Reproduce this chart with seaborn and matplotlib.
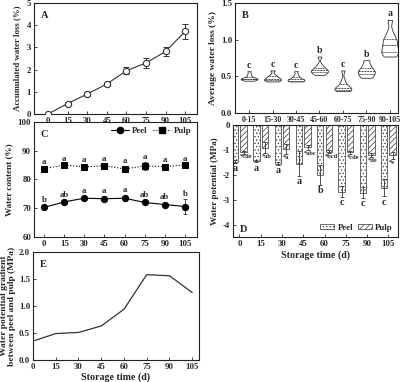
import numpy as np
import pandas as pd
import matplotlib
matplotlib.use("Agg")
import matplotlib.pyplot as plt
import seaborn as sns
from matplotlib.patches import Patch
from matplotlib.lines import Line2D

# ---------------- data ----------------
days = [0, 15, 30, 45, 60, 75, 90, 105]
day_labels = ["0", "15", "30", "45", "60", "75", "90", "105"]

acc_loss = [0.0, 0.47, 0.90, 1.35, 1.95, 2.30, 2.82, 3.72]
acc_loss_err = [0.02, 0.05, 0.07, 0.08, 0.16, 0.22, 0.22, 0.32]

intervals = ["0-15", "15-30", "30-45", "45-60", "60-75", "75-90", "90-105"]
loss_0_15 = [0.44, 0.45, 0.46, 0.46, 0.47, 0.47, 0.48, 0.50, 0.53, 0.57]
loss_15_30 = [0.43, 0.44, 0.45, 0.46, 0.47, 0.48, 0.50, 0.52, 0.58]
loss_30_45 = [0.43, 0.44, 0.44, 0.45, 0.46, 0.47, 0.49, 0.52, 0.57]
loss_45_60 = [0.52, 0.54, 0.56, 0.57, 0.58, 0.60, 0.62, 0.66, 0.77]
loss_60_75 = [0.30, 0.31, 0.32, 0.33, 0.34, 0.36, 0.39, 0.45, 0.58]
loss_75_90 = [0.48, 0.50, 0.53, 0.55, 0.57, 0.59, 0.62, 0.66, 0.72]
loss_90_105 = [0.77, 0.80, 0.83, 0.86, 0.90, 0.95, 0.99, 1.02, 1.10, 1.27]
loss_letters = ["c", "c", "c", "b", "c", "b", "a"]

peel_wc = [70.3, 72.2, 73.5, 73.3, 73.5, 72.0, 71.3, 70.6]
peel_wc_err = [0.5, 0.5, 0.6, 0.8, 0.9, 0.6, 0.5, 2.6]
pulp_wc = [83.8, 85.0, 84.4, 84.8, 83.7, 84.7, 84.5, 85.0]
pulp_wc_err = [0.5, 0.5, 0.5, 0.6, 1.0, 1.3, 0.5, 0.5]
peel_wc_letters = ["b", "ab", "a", "a", "a", "ab", "ab", "b"]
pulp_wc_letters = ["a", "a", "a", "a", "a", "a", "a", "a"]

peel_wp = [-1.47, -1.45, -1.55, -1.55, -2.02, -2.68, -2.72, -2.52]
peel_wp_err = [0.05, 0.05, 0.06, 0.50, 0.40, 0.22, 0.22, 0.35]
pulp_wp = [-1.10, -0.92, -0.97, -0.90, -1.08, -1.10, -1.20, -1.22]
pulp_wp_err = [0.05, 0.22, 0.20, 0.10, 0.06, 0.07, 0.08, 0.15]
peel_wp_letters = ["a", "a", "a", "a", "b", "c", "c", "c"]
pulp_wp_letters = ["*cde", "*ab", "*a", "*abc", "*bcd", "*cde", "*de", "*e"]

gradient = [0.35, 0.49, 0.51, 0.63, 0.94, 1.58, 1.56, 1.25]

# ---------------- style ----------------
sns.set_theme(style="ticks")
plt.rcParams['font.family'] = ['Liberation Serif', 'DejaVu Serif']
plt.rcParams['font.weight'] = 'bold'
plt.rcParams['axes.labelweight'] = 'bold'
plt.rcParams['axes.linewidth'] = 0.8
plt.rcParams['axes.edgecolor'] = '#222222'
plt.rcParams['xtick.direction'] = 'in'
plt.rcParams['ytick.direction'] = 'in'
plt.rcParams['xtick.major.size'] = 2
plt.rcParams['ytick.major.size'] = 2
plt.rcParams['xtick.major.width'] = 0.6
plt.rcParams['ytick.major.width'] = 0.6
plt.rcParams['xtick.labelsize'] = 6.3
plt.rcParams['ytick.labelsize'] = 6.3
plt.rcParams['xtick.major.pad'] = 2
plt.rcParams['ytick.major.pad'] = 2
plt.rcParams['hatch.linewidth'] = 0.5
plt.rcParams['hatch.color'] = '#444444'

W, H = 400, 382
fig = plt.figure(figsize=(4.0, 3.82), dpi=100)


def add_ax(x0, y0, x1, y1):
    return fig.add_axes([x0 / W, 1 - y1 / H, (x1 - x0) / W, (y1 - y0) / H])


YLAB = 6.3
XLAB = 7.2
dark = '#333333'

# ---------------- Panel A ----------------
axA = add_ax(34, 3, 197, 114)
sns.lineplot(x=days, y=acc_loss, ax=axA, color=dark, linewidth=0.8,
             marker='o', markersize=4.5, markerfacecolor='white',
             markeredgecolor=dark, markeredgewidth=0.8, zorder=3)
axA.errorbar(days, acc_loss, yerr=acc_loss_err, fmt='none', ecolor=dark,
             elinewidth=0.7, capsize=2, capthick=0.7, zorder=2)
axA.set_xlim(-10.7, 114)
axA.set_ylim(0, 5)
axA.set_xticks(days)
axA.set_yticks([0, 1, 2, 3, 4, 5])
axA.set_ylabel("Accumulated water loss (%)", fontsize=YLAB, labelpad=4)
axA.text(0.04, 0.93, "A", transform=axA.transAxes, fontsize=7.5,
         fontweight='bold', va='top')

# ---------------- Panel B ----------------
axB = add_ax(235, 3, 398, 113)
loss_lists = [loss_0_15, loss_15_30, loss_30_45, loss_45_60,
              loss_60_75, loss_75_90, loss_90_105]
dfB = pd.DataFrame({
    "interval": [iv for iv, vals in zip(intervals, loss_lists) for _ in vals],
    "loss": [v for vals in loss_lists for v in vals],
})
sns.violinplot(data=dfB, x="interval", y="loss", order=intervals, ax=axB,
               inner="quart", color="white", linecolor=dark, linewidth=0.6,
               cut=0, width=0.72, density_norm="width", bw_adjust=0.6)
for i, (vals, let) in enumerate(zip(loss_lists, loss_letters)):
    axB.text(i, max(vals) + 0.02, let, ha='center', va='bottom', fontsize=7)
axB.set_xlim(-0.6, 6.35)
axB.set_ylim(0, 1.5)
axB.set_yticks([0.0, 0.5, 1.0, 1.5])
axB.set_yticklabels(["0.0", "0.5", "1.0", "1.5"])
axB.tick_params(axis='x', labelsize=5.7)
axB.set_xlabel("")
axB.set_ylabel("Average water loss (%)", fontsize=6.8, labelpad=3)
axB.text(0.04, 0.93, "B", transform=axB.transAxes, fontsize=7.5,
         fontweight='bold', va='top')

# ---------------- Panel C ----------------
axC = add_ax(34, 122, 197, 237)
sns.lineplot(x=days, y=peel_wc, ax=axC, color='black', linewidth=0.8,
             marker='o', markersize=4.5, markeredgecolor='black', zorder=3)
sns.lineplot(x=days, y=pulp_wc, ax=axC, color='black', linewidth=0.8,
             linestyle=':', marker='s', markersize=4.5,
             markeredgecolor='black', zorder=3)
axC.errorbar(days, peel_wc, yerr=peel_wc_err, fmt='none', ecolor=dark,
             elinewidth=0.6, capsize=1.5, capthick=0.6)
axC.errorbar(days, pulp_wc, yerr=pulp_wc_err, fmt='none', ecolor=dark,
             elinewidth=0.6, capsize=1.5, capthick=0.6)
for d, v, e, l in zip(days, peel_wc, peel_wc_err, peel_wc_letters):
    axC.text(d, v + max(e, 0.6) + 0.5, l, ha='center', va='bottom', fontsize=6.3)
for d, v, e, l in zip(days, pulp_wc, pulp_wc_err, pulp_wc_letters):
    axC.text(d, v + max(e, 0.6) + 0.3, l, ha='center', va='bottom', fontsize=6.3)
axC.set_xlim(-7.5, 114)
axC.set_ylim(60, 100)
axC.set_xticks(days)
axC.set_yticks([60, 70, 80, 90, 100])
axC.set_ylabel("Water content (%)", fontsize=6.6, labelpad=3)
axC.text(0.04, 0.93, "C", transform=axC.transAxes, fontsize=7.5,
         fontweight='bold', va='top')
handlesC = [Line2D([], [], color='black', marker='o', markersize=4.5, linewidth=0.8),
            Line2D([], [], color='black', marker='s', markersize=4.5, linewidth=0.8,
                   linestyle=':')]
axC.legend(handlesC, ["Peel", "Pulp"], loc='upper right', ncol=2, frameon=False,
           fontsize=6.3, handlelength=2.0, columnspacing=0.6, handletextpad=0.4,
           borderaxespad=0.2)

# ---------------- Panel D ----------------
axD = add_ax(233, 125, 398, 237)
dfD = pd.DataFrame({
    "day": day_labels * 2,
    "wp": peel_wp + pulp_wp,
    "tissue": ["Peel"] * len(days) + ["Pulp"] * len(days),
})
sns.barplot(data=dfD, x="day", y="wp", hue="tissue", order=day_labels,
            hue_order=["Peel", "Pulp"], palette=["white", "white"],
            edgecolor=dark, linewidth=0.5, width=0.8, gap=0.25,
            errorbar=None, legend=False, ax=axD)
bars = [p for p in axD.patches][:2 * len(days)]
peel_bars = bars[:len(days)]
pulp_bars = bars[len(days):]
for p in peel_bars:
    p.set_hatch('.....')
for p in pulp_bars:
    p.set_hatch('//////')
peel_x = [p.get_x() + p.get_width() / 2 for p in peel_bars]
pulp_x = [p.get_x() + p.get_width() / 2 for p in pulp_bars]
axD.errorbar(peel_x, peel_wp, yerr=peel_wp_err, fmt='none', ecolor=dark,
             elinewidth=0.6, capsize=1.5, capthick=0.6)
axD.errorbar(pulp_x, pulp_wp, yerr=pulp_wp_err, fmt='none', ecolor=dark,
             elinewidth=0.6, capsize=1.5, capthick=0.6)
for x, v, e, l in zip(peel_x, peel_wp, peel_wp_err, peel_wp_letters):
    axD.text(x, v - e - 0.05, l, ha='center', va='top', fontsize=7.2)
for p, v, e, l in zip(pulp_bars, pulp_wp, pulp_wp_err, pulp_wp_letters):
    axD.text(p.get_x() - 0.02, v - e - 0.03, l, ha='left', va='top', fontsize=4.6)
axD.set_xlim(-0.3, 7.45)
axD.set_ylim(-4.5, 0)
axD.set_yticks([0, -1, -2, -3, -4])
axD.set_yticklabels(["0", "-1", "-2", "-3", "-4"])
axD.set_xlabel("Storage time (d)", fontsize=XLAB, labelpad=2)
axD.set_ylabel("Water potential (MPa)", fontsize=6.6, labelpad=3)
axD.text(0.04, 0.03, "D", transform=axD.transAxes, fontsize=7.5,
         fontweight='bold', va='bottom')
handlesD = [Patch(facecolor='white', edgecolor=dark, linewidth=0.5, hatch='.....'),
            Patch(facecolor='white', edgecolor=dark, linewidth=0.5, hatch='//////')]
axD.legend(handlesD, ["Peel", "Pulp"], loc='lower right', ncol=2, frameon=False,
           fontsize=6.3, handlelength=1.6, handleheight=0.6, columnspacing=0.5,
           handletextpad=0.4, borderaxespad=0.2)

# ---------------- Panel E ----------------
axE = add_ax(33, 252, 199, 360)
sns.lineplot(x=days, y=gradient, ax=axE, color=dark, linewidth=0.9)
axE.set_xlim(0, 109.5)
axE.set_ylim(0, 2.0)
axE.set_xticks(days)
axE.set_yticks([0.0, 0.5, 1.0, 1.5, 2.0])
axE.set_yticklabels(["0.0", "0.5", "1.0", "1.5", "2.0"])
axE.set_xlabel("Storage time (d)", fontsize=XLAB, labelpad=1)
axE.set_ylabel("Water potential gradient\nbetween peel and pulp (MPa)",
               fontsize=6.8, labelpad=2, linespacing=1.0)
axE.text(0.04, 0.93, "E", transform=axE.transAxes, fontsize=7.5,
         fontweight='bold', va='top')

for ax in [axA, axB, axC, axD, axE]:
    for s in ax.spines.values():
        s.set_visible(True)
        s.set_linewidth(0.8)
    ax.tick_params(top=False, right=False)

fig.savefig("out.png", dpi=100)
